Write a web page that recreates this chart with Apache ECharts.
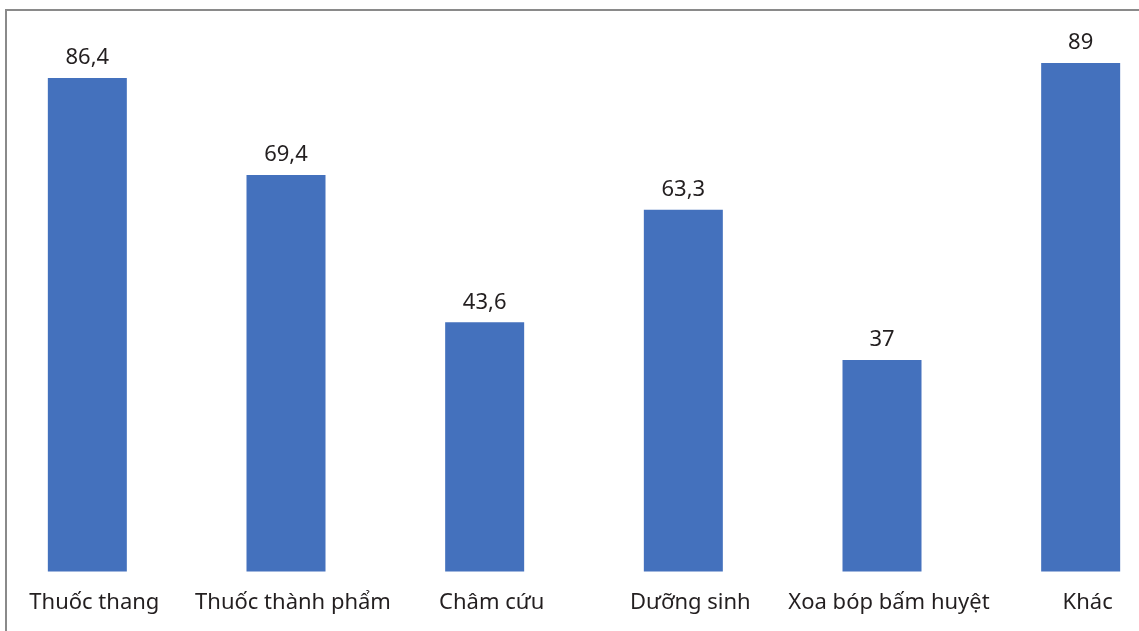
<!DOCTYPE html>
<html>
<head>
<meta charset="utf-8">
<script src="https://cdn.jsdelivr.net/npm/echarts@6/dist/echarts.min.js"></script>
<style>
html,body{margin:0;padding:0;background:#fff;overflow:hidden;width:1139px;height:631px;position:relative;}
#c{position:absolute;left:-12px;top:0;width:1192px;height:631px;}
</style>
</head>
<body>
<div id="c"></div>
<script>
var categories = ['Thuốc thang', 'Thuốc thành phẩm', 'Châm cứu', 'Dưỡng sinh', 'Xoa bóp bấm huyệt', 'Khác'];
var values = [86.4, 69.4, 43.6, 63.3, 37, 89];

var chart = echarts.init(document.getElementById('c'), null, {renderer: 'canvas'});
var FONT = '"Noto Sans", "Open Sans", sans-serif';
chart.setOption({
  animation: false,
  backgroundColor: '#ffffff',
  graphic: [{
    type: 'rect',
    shape: {x: 18, y: 10, width: 1300, height: 800},
    style: {fill: 'none', stroke: '#8a8a8a', lineWidth: 2},
    silent: true,
    z: -1
  }],
  grid: {left: 0, right: 0, top: 0.2, bottom: 59.6, containLabel: false},
  xAxis: {
    type: 'category',
    data: categories,
    boundaryGap: true,
    axisLine: {show: false},
    axisTick: {show: false},
    axisLabel: {
      interval: 0,
      margin: 20,
      padding: [0, 0, 0, 14],
      fontSize: 22,
      fontFamily: FONT,
      color: '#231f20'
    }
  },
  yAxis: {
    type: 'value',
    min: 0,
    max: 100,
    show: false,
    splitLine: {show: false}
  },
  series: [{
    type: 'bar',
    data: values,
    barWidth: 79,
    itemStyle: {color: '#4471bd'},
    label: {
      show: true,
      position: 'top',
      distance: 9,
      fontSize: 22,
      fontFamily: FONT,
      color: '#231f20',
      formatter: function (p) { return String(p.value).replace('.', ','); }
    }
  }]
});
</script>
</body>
</html>
